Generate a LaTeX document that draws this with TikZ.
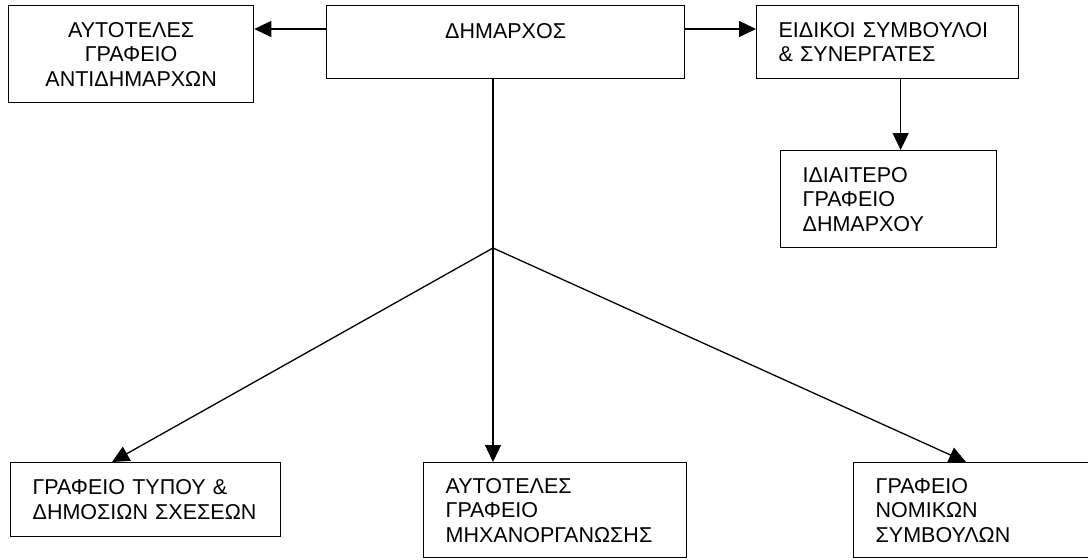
\documentclass[tikz,border=0pt]{standalone}
\usepackage{fontspec}
\setmainfont{Liberation Sans}
\usetikzlibrary{arrows.meta,calc}
\begin{document}
\begin{tikzpicture}[x=1pt,y=-1pt,
  box/.style={draw=black, line width=1.3pt, rectangle, anchor=north west, inner ysep=0pt,
    font=\fontsize{21.5}{24.5}\selectfont, text=black},
  lbox/.style={box, align=left, inner xsep=22pt},
  txt/.style={font=\fontsize{21.5}{24.5}\selectfont, text=black, inner sep=0pt},
  conn/.style={draw=black, line width=1.3pt},
  arr/.style={conn, -{Triangle[length=17pt,width=16pt]}}]
\path[use as bounding box] (0,0) rectangle (1088,560);
\clip (0,0) rectangle (1088,560);
% boxes
\node[box, align=center, minimum width=245pt, minimum height=97pt, text width=225pt] (boxA) at (8,5)
  {ΑΥΤΟΤΕΛΕΣ\\ΓΡΑΦΕΙΟ\\ΑΝΤΙΔΗΜΑΡΧΩΝ};
\node[box, minimum width=358pt, minimum height=73pt] (dim) at (326,5) {};
\node[txt, anchor=base] (dimT) at ([yshift=-33pt]dim.north) {ΔΗΜΑΡΧΟΣ};
\node[lbox, minimum width=262pt, minimum height=73pt, text width=218pt] (eid) at (756,5)
  {ΕΙΔΙΚΟΙ ΣΥΜΒΟΥΛΟΙ\\\& ΣΥΝΕΡΓΑΤΕΣ};
\node[lbox, minimum width=216pt, minimum height=97pt, text width=172pt] (idi) at (780,150)
  {ΙΔΙΑΙΤΕΡΟ\\ΓΡΑΦΕΙΟ\\ΔΗΜΑΡΧΟΥ};
\node[lbox, minimum width=270pt, minimum height=74pt, text width=226pt] (bl) at (10,462)
  {ΓΡΑΦΕΙΟ ΤΥΠΟΥ \&\\ΔΗΜΟΣΙΩΝ ΣΧΕΣΕΩΝ};
\node[lbox, minimum width=263pt, minimum height=95pt, text width=219pt] (mid) at (423,462)
  {ΑΥΤΟΤΕΛΕΣ\\ΓΡΑΦΕΙΟ\\ΜΗΧΑΝΟΡΓΑΝΩΣΗΣ};
\node[lbox, minimum width=260pt, minimum height=95pt, text width=216pt] (br) at (853,462)
  {ΓΡΑΦΕΙΟ\\ΝΟΜΙΚΩΝ\\ΣΥΜΒΟΥΛΩΝ};
% connector points
\coordinate (dimL) at ([yshift=-24pt]dim.north west);
\coordinate (dimR) at ([yshift=-24pt]dim.north east);
\coordinate (eidB) at ([xshift=13pt]eid.south);
\coordinate (j) at (493,248);
\coordinate (blT) at (112,462);
\coordinate (brT) at (966,462);
% connectors
\draw[arr] (dimL) -- (boxA.east |- dimL);
\draw[arr] (dimR) -- (eid.west |- dimR);
\draw[arr] (eidB) -- (eidB |- idi.north);
\draw[conn] (dim.south -| j) -- (j);
\draw[arr] (j) -- (j |- mid.north);
\draw[arr] (j) -- (blT);
\draw[arr] (j) -- (brT);
\end{tikzpicture}
\end{document}
